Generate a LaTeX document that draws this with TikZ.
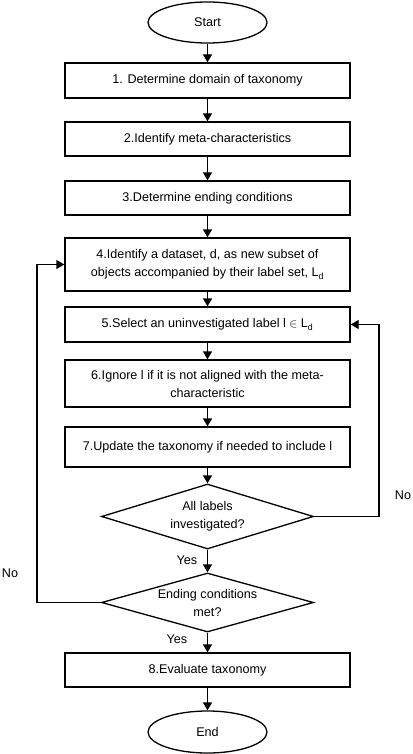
\documentclass[tikz,border=0pt]{standalone}
\usepackage{fontspec}
\setmainfont{Liberation Sans}
\usetikzlibrary{shapes.geometric,arrows.meta}
\begin{document}
\begin{tikzpicture}[x=1pt,y=-1pt,
  font=\fontsize{12.6}{18}\selectfont,
  every node/.style={line width=1.3pt, draw=black, align=center, inner sep=0pt},
  term/.style={ellipse, minimum width=119pt, minimum height=41pt},
  proc/.style={rectangle, minimum width=285pt},
  dec/.style={diamond, aspect=4, minimum width=212pt},
  lbl/.style={draw=none},
  arr/.style={line width=1.3pt, -{Triangle[length=8pt,width=9pt]}}]
\useasboundingbox (0,0) rectangle (412,754);
\node[term] (start) at (207.5,22.5) {Start};
\node[proc, minimum height=35pt] (b1) at (207.5,80.5) {1. Determine domain of taxonomy};
\node[proc, minimum height=34pt] (b2) at (207.5,139) {2.Identify meta-characteristics};
\node[proc, minimum height=34pt] (b3) at (207.5,198) {3.Determine ending conditions};
\node[proc, minimum height=53pt] (b4) at (207.5,264.5) {4.Identify a dataset, d, as new subset of\\objects accompanied by their label set, $\mathrm{L}_\mathrm{d}$};
\node[proc, minimum height=35pt] (b5) at (207.5,324.5) {5.Select an uninvestigated label l $\in$ $\mathrm{L}_\mathrm{d}$};
\node[proc, minimum height=47pt] (b6) at (207.5,383.5) {6.Ignore l if it is not aligned with the meta-\\characteristic};
\node[proc, minimum height=40pt] (b7) at (207.5,447) {7.Update the taxonomy if needed to include l};
\node[dec, minimum height=65pt] (d1) at (207.5,516.5) {All labels\\investigated?};
\node[dec, minimum height=59pt] (d2) at (207.5,602.5) {Ending conditions\\met?};
\node[proc, minimum height=34pt] (b8) at (207.5,670) {8.Evaluate taxonomy};
\node[term, minimum height=42pt] (end) at (207.5,732) {End};
\coordinate (lc) at (37,0);
\coordinate (rc) at (379,0);
\draw[arr] (start) -- (b1);
\draw[arr] (b1) -- (b2);
\draw[arr] (b2) -- (b3);
\draw[arr] (b3) -- (b4);
\draw[arr] (b4) -- (b5);
\draw[arr] (b5) -- (b6);
\draw[arr] (b6) -- (b7);
\draw[arr] (b7) -- (d1);
\draw[arr] (d1) -- (d2);
\draw[arr] (d2) -- (b8);
\draw[arr] (b8) -- (end);
\draw[arr] (d1.east) -- (d1.east -| rc) -- (b5.east -| rc) -- (b5.east);
\draw[arr] (d2.west) -- (d2.west -| lc) -- (b4.west -| lc) -- (b4.west);
\node[lbl] at (403,495) {No};
\node[lbl] at (10,573) {No};
\node[lbl] at (187,560) {Yes};
\node[lbl] at (177,639) {Yes};
\end{tikzpicture}
\end{document}
